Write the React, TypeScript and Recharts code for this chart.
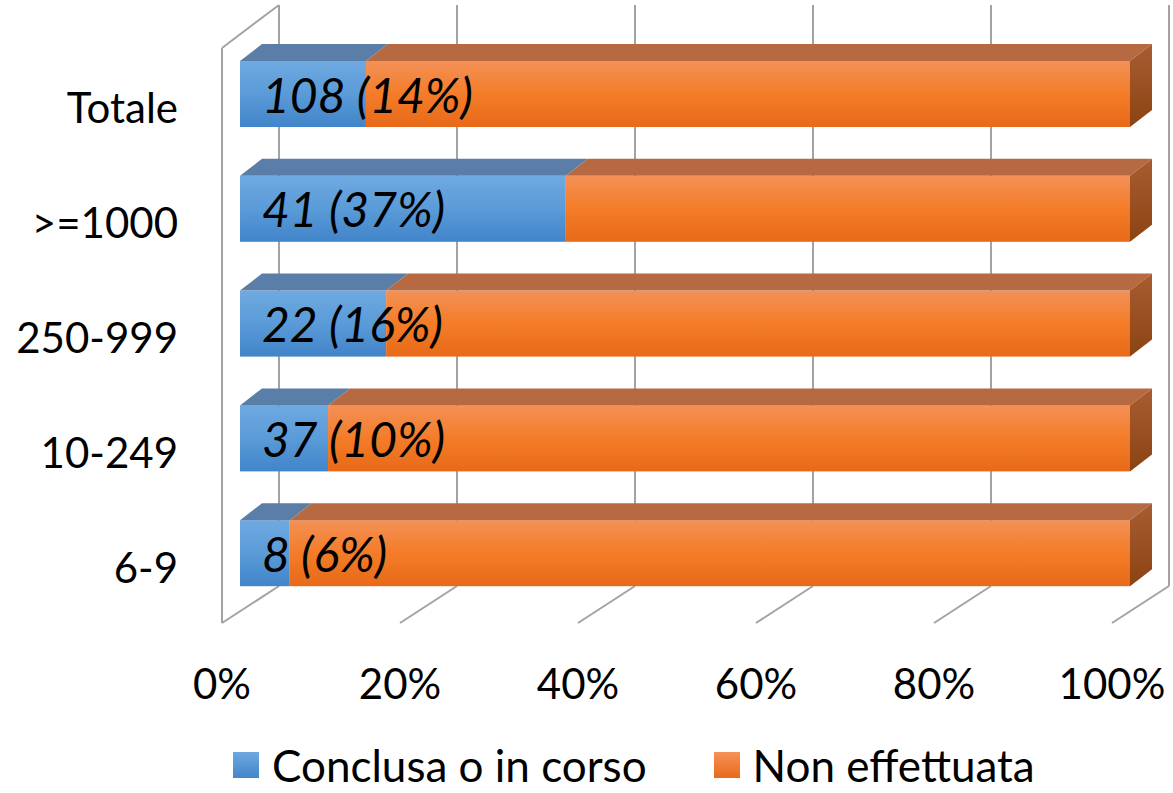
import React from 'react';
import { BarChart, Bar, XAxis, YAxis, CartesianGrid, Legend, LabelList } from 'recharts';

// values (counts per size class)
const categories = ['Totale', '>=1000', '250-999', '10-249', '6-9'];
const conclusa = [108, 41, 22, 37, 8];
const nonEffettuata = [655, 71, 112, 337, 135];
const xTicks = [0, 0.2, 0.4, 0.6, 0.8, 1];
const seriesNames = ['Conclusa o in corso', 'Non effettuata'];

const FONT = 'Lato, Carlito, Calibri, sans-serif';

// 3d depth of the bars and of the walls
const DX = 22;
const DY = 17;

const data = categories.map((name, i) => ({
  name,
  conclusa: conclusa[i],
  nonEffettuata: nonEffettuata[i],
}));

const labelText = (i: number) =>
  `${conclusa[i]} (${Math.round((conclusa[i] / (conclusa[i] + nonEffettuata[i])) * 100)}%)`;

const Box3D = (props: any) => {
  const { x, y, width, height, faceFill, topFill, sideFill } = props;
  if (!width || width <= 0) return null;
  const top = `M${x},${y} L${x + width},${y} L${x + width + DX},${y - DY} L${x + DX},${y - DY} Z`;
  const side = `M${x + width},${y} L${x + width + DX},${y - DY} L${x + width + DX},${y + height - DY} L${x + width},${y + height} Z`;
  return (
    <g>
      <rect x={x} y={y} width={width} height={height} fill={faceFill} />
      <path d={top} fill={topFill} />
      {sideFill && <path d={side} fill={sideFill} />}
    </g>
  );
};

// back wall, floor and left wall of the 3d box
const GridLine = (props: any) => {
  const { x1, y1, y2, index } = props;
  const stroke = '#A3A3A3';
  return (
    <g key={`g-${index}`}>
      <line x1={x1 + 39} y1={y1 - 32} x2={x1 + 39} y2={y2 - 25} stroke={stroke} strokeWidth={2} />
      <line x1={x1 - 18} y1={y2 + 12} x2={x1 + 39} y2={y2 - 25} stroke={stroke} strokeWidth={2} />
      {index === 0 && (
        <>
          <line x1={x1 - 18} y1={y1 + 11} x2={x1 - 18} y2={y2 + 12} stroke={stroke} strokeWidth={2} />
          <line x1={x1 - 18} y1={y1 + 11} x2={x1 + 39} y2={y1 - 32} stroke={stroke} strokeWidth={2} />
        </>
      )}
    </g>
  );
};

const XTick = ({ x, y, payload }: any) => (
  <text
    x={x - 18}
    y={y + 72}
    textAnchor="middle"
    dominantBaseline="central"
    fontSize={42}
    fontFamily={FONT}
    fill="#000"
  >
    {Math.round(payload.value * 100)}%
  </text>
);

const YTick = ({ x, y, payload }: any) => (
  <text
    x={x}
    y={y + 13}
    textAnchor="end"
    dominantBaseline="central"
    fontSize={42}
    fontFamily={FONT}
    fill="#000"
  >
    {payload.value}
  </text>
);

// label drawn with the last series so it sits above both segments
const renderLabel = (p: any) => {
  const vb = p.viewBox && p.viewBox.width !== undefined ? p.viewBox : p;
  const { x, y, width, height } = vb;
  let i = p.index;
  if (i === undefined && p.payload) i = categories.indexOf(p.payload.name);
  if (i === undefined || i < 0) return null;
  const start = x - (width * conclusa[i]) / nonEffettuata[i];
  return (
    <text
      x={start + 22}
      y={y + height / 2}
      dominantBaseline="central"
      fontStyle="italic"
      fontSize={48}
      fontFamily={FONT}
      fill="#000"
    >
      {labelText(i)}
    </text>
  );
};

const legendSwatch = [
  'linear-gradient(#6EA8E0, #4386CA)',
  'linear-gradient(#F59258, #E86A18)',
];

const LegendContent = () => (
  <div
    style={{
      display: 'flex',
      alignItems: 'center',
      height: 52,
      paddingLeft: 233,
      fontFamily: FONT,
      fontSize: 44,
      color: '#000',
      lineHeight: '52px',
    }}
  >
    {seriesNames.map((n, i) => (
      <div key={n} style={{ display: 'flex', alignItems: 'center', marginRight: 67 }}>
        <span style={{ display: 'inline-block', width: 26, height: 26, background: legendSwatch[i], marginRight: 13 }} />
        <span>{n}</span>
      </div>
    ))}
  </div>
);

export default function App() {
  return (
    <div style={{ position: 'absolute', left: 0, top: 0, background: '#fff' }}>
      <BarChart
        width={1173}
        height={793}
        data={data}
        layout="vertical"
        stackOffset="expand"
        barSize={66}
        margin={{ top: 37, right: 43, left: 0, bottom: 0 }}
      >
        <defs>
          <linearGradient id="blueFace" x1="0" y1="0" x2="0" y2="1">
            <stop offset="0%" stopColor="#6FA9E1" />
            <stop offset="50%" stopColor="#5A9BD8" />
            <stop offset="100%" stopColor="#4184C9" />
          </linearGradient>
          <linearGradient id="orangeFace" x1="0" y1="0" x2="0" y2="1">
            <stop offset="0%" stopColor="#F39157" />
            <stop offset="50%" stopColor="#F47C28" />
            <stop offset="100%" stopColor="#E76A19" />
          </linearGradient>
          <linearGradient id="orangeSide" x1="0" y1="0" x2="0" y2="1">
            <stop offset="0%" stopColor="#A85D31" />
            <stop offset="100%" stopColor="#8C4313" />
          </linearGradient>
        </defs>
        <CartesianGrid horizontal={false} vertical={GridLine} />
        <XAxis
          type="number"
          domain={[0, 1]}
          ticks={xTicks}
          interval={0}
          axisLine={false}
          tickLine={false}
          tickSize={0}
          tickMargin={0}
          height={128}
          tick={<XTick />}
        />
        <YAxis
          type="category"
          dataKey="name"
          width={240}
          axisLine={false}
          tickLine={false}
          tickSize={0}
          tickMargin={62}
          tick={<YTick />}
        />
        <Legend
          verticalAlign="bottom"
          height={54}
          wrapperStyle={{ left: 0, bottom: 0, width: 1173 }}
          content={<LegendContent />}
        />
        <Bar
          dataKey="conclusa"
          name={seriesNames[0]}
          stackId="a"
          isAnimationActive={false}
          shape={(p: any) => <Box3D {...p} faceFill="url(#blueFace)" topFill="#5A7EA7" />}
        />
        <Bar
          dataKey="nonEffettuata"
          name={seriesNames[1]}
          stackId="a"
          isAnimationActive={false}
          shape={(p: any) => (
            <Box3D {...p} faceFill="url(#orangeFace)" topFill="#B76A41" sideFill="url(#orangeSide)" />
          )}
        >
          <LabelList dataKey="nonEffettuata" content={renderLabel} />
        </Bar>
      </BarChart>
    </div>
  );
}
